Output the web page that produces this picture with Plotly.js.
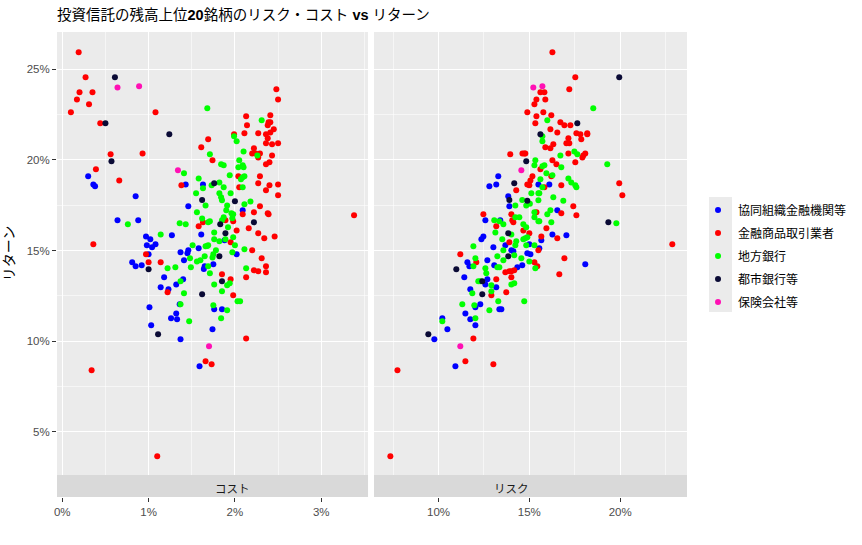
<!DOCTYPE html>
<html>
<head>
<meta charset="utf-8">
<script src="https://cdn.plot.ly/plotly-3.0.1.min.js"></script>
<style>
  body { margin: 0; background: #fff; }
  #chart { width: 862px; height: 545px; }
</style>
</head>
<body>
<div id="chart"></div>
<script>
// investment trusts, top 20 by balance: cost / risk vs return (all in %)
const categories = ['協同組織金融機関等', '金融商品取引業者', '地方銀行', '都市銀行等', '保険会社等'];
const catColors = ['#0000FF', '#FF0000', '#00FF00', '#0A0A35', '#FF10B4'];
const panelLabels = ['コスト', 'リスク'];

// [cost, return]
const kyodoCost = [[0.30,19.10],[0.36,18.65],[0.38,18.54],[0.85,17.99],[1.43,18.65],[1.63,18.65],
  [1.46,17.44],[0.64,16.67],[0.88,16.67],[1.61,15.89],[1.27,15.84],[0.97,15.78],[1.02,15.62],[1.08,15.34],
  [0.98,15.29],[1.04,15.18],[1.58,15.12],[1.46,15.01],[1.45,14.85],[1.37,14.90],[1.00,14.79],[1.41,14.46],
  [0.81,14.35],[0.85,14.13],[0.92,14.18],[1.65,14.13],[1.64,13.98],[1.75,14.24],[1.18,13.52],[1.40,13.41],
  [1.32,13.13],[1.14,12.97],[1.23,12.86],[1.01,11.87],[1.36,12.03],[1.76,11.76],[1.32,11.53],[1.26,11.26],
  [1.33,11.20],[1.03,10.87],[1.37,10.10],[1.74,10.65],[1.59,8.61],[2.09,17.22],[1.88,15.56],[2.02,14.79],
  [1.85,11.76]];
const shokenCost = [[0.19,25.94],[0.27,24.56],[0.20,23.73],[0.35,23.73],[0.17,23.34],[0.31,23.07],[0.10,22.63],
  [1.08,22.63],[0.44,22.02],[1.69,21.14],[1.61,20.70],[1.74,19.98],[0.56,20.31],[0.93,20.36],[0.39,19.48],
  [0.66,18.87],[1.38,18.60],[2.48,23.90],[2.50,23.34],[2.13,22.41],[2.41,22.46],[2.14,21.91],[2.39,22.08],
  [2.41,22.08],[2.38,21.91],[2.45,21.69],[2.41,21.52],[2.36,21.41],[2.11,21.47],[2.27,21.47],[1.99,21.41],
  [2.38,21.19],[2.36,20.92],[2.43,20.86],[2.50,20.92],[2.22,20.64],[2.20,20.36],[2.24,20.36],[2.29,20.36],
  [2.27,20.14],[2.43,20.25],[2.40,19.87],[2.36,19.76],[2.04,19.10],[2.29,19.10],[2.27,18.71],[2.40,18.60],
  [2.50,18.65],[2.36,18.32],[2.50,18.05],[2.05,18.49],[1.63,16.56],[1.58,16.34],[0.36,15.34],[0.97,14.79],
  [1.00,14.35],[1.14,14.35],[1.22,12.69],[1.66,8.89],[1.73,8.72],[0.34,8.39],[2.29,17.44],[2.09,17.00],
  [2.22,17.11],[2.38,17.05],[2.39,17.00],[1.89,16.67],[1.98,16.61],[2.02,16.11],[2.16,16.23],[2.27,15.95],
  [2.34,15.67],[2.46,15.78],[1.95,15.45],[2.20,15.01],[2.31,14.57],[2.22,13.91],[2.27,13.85],[2.36,14.13],
  [2.36,13.80],[1.85,13.69],[2.13,13.52],[1.95,13.41],[1.98,12.53],[2.13,10.15],[3.38,16.94],[1.10,3.64]];
const chiginCost = [[1.68,22.85],[1.71,20.31],[1.41,19.26],[1.58,18.98],[1.63,18.43],[1.73,18.60],[1.55,18.16],
  [2.31,22.19],[1.99,21.30],[2.02,21.03],[2.10,20.47],[2.26,20.25],[2.05,19.98],[1.84,19.76],[1.87,19.70],
  [2.04,19.59],[2.09,19.70],[2.10,19.59],[1.94,19.15],[2.09,19.04],[2.11,19.10],[2.07,18.93],[2.09,18.49],
  [1.82,18.76],[1.87,18.49],[1.82,18.16],[1.84,17.94],[1.95,18.16],[1.66,17.49],[1.56,17.11],[1.62,16.76],
  [1.69,16.56],[1.71,16.61],[0.76,16.45],[1.36,16.50],[1.43,16.45],[1.76,16.00],[1.14,15.89],[1.76,15.62],
  [1.51,15.29],[1.66,15.23],[1.69,15.29],[1.65,14.68],[1.75,14.79],[1.74,14.62],[1.48,14.57],[1.56,14.40],
  [1.60,14.46],[1.22,14.02],[1.31,14.07],[1.49,14.07],[1.69,14.13],[1.71,13.74],[1.37,13.30],[1.76,13.13],
  [1.41,12.64],[1.37,12.03],[1.75,11.98],[1.47,11.09],[1.85,17.77],[2.18,17.71],[1.91,17.49],[2.11,17.55],
  [1.90,17.22],[1.96,17.05],[1.98,17.00],[1.87,16.83],[1.85,16.67],[1.97,16.78],[1.92,16.28],[1.98,15.73],
  [1.82,15.51],[1.89,15.62],[2.00,15.29],[2.11,15.07],[1.68,15.25],[1.78,15.01],[1.97,14.90],[2.13,14.02],
  [1.91,13.08],[1.94,13.19],[1.85,12.75],[2.03,12.20],[2.06,12.20],[1.91,11.70],[1.84,11.26]];
const toginCost = [[0.61,24.56],[0.50,22.02],[1.24,21.41],[0.57,19.92],[1.76,18.71],[1.62,17.79],[2.00,17.72],
  [1.83,16.45],[2.22,16.56],[1.89,15.95],[1.82,14.68],[1.00,13.96],[1.85,13.30],[1.62,12.58],[1.11,10.38]];
const hokenCost = [[0.64,24.00],[0.89,24.06],[1.34,19.43],[1.70,9.71]];

// [risk, return]
const kyodoRisk = [[13.29,19.10],[13.18,18.65],[12.80,18.54],[13.84,17.99],[15.50,18.65],[16.10,18.65],
  [13.90,17.44],[12.58,16.67],[13.40,16.67],[12.47,15.78],[12.36,15.62],[13.68,15.29],[13.02,15.18],
  [14.01,15.01],[14.12,14.96],[14.89,14.85],[11.59,14.35],[12.69,14.46],[11.70,14.13],[13.07,14.18],
  [14.34,14.07],[14.61,14.18],[11.42,13.52],[12.69,13.41],[12.58,13.13],[13.18,12.97],[11.75,12.86],
  [12.03,11.87],[12.30,12.03],[13.35,11.76],[13.46,11.76],[11.48,11.53],[10.21,11.26],[11.75,11.20],
  [12.03,10.87],[10.49,10.65],[9.77,10.10],[10.93,8.61],[16.54,17.22],[16.27,15.89],[17.04,15.84],
  [15.66,15.56],[15.00,15.34],[15.55,15.12],[15.06,14.79],[18.08,14.24]];
const shokenRisk = [[14.89,22.63],[13.95,20.31],[14.62,20.36],[14.73,20.36],[14.78,20.36],[14.28,18.32],
  [16.27,25.94],[17.53,24.56],[15.61,23.73],[15.83,23.73],[15.39,23.34],[15.88,23.34],[17.20,23.90],
  [15.28,23.07],[15.77,22.63],[15.39,22.41],[16.21,22.46],[15.33,22.02],[16.71,22.08],[16.93,21.91],
  [17.26,21.91],[16.16,21.69],[16.54,21.52],[17.59,21.47],[17.81,21.41],[18.19,21.47],[18.19,21.41],
  [17.15,21.19],[17.86,21.14],[17.04,20.92],[17.20,20.92],[16.32,20.86],[15.88,20.70],[16.16,20.64],
  [17.15,20.36],[18.08,20.36],[17.97,20.25],[17.92,20.14],[16.27,19.98],[17.53,19.87],[16.49,19.76],
  [15.61,19.48],[15.17,19.10],[16.21,19.10],[16.76,18.60],[19.95,18.71],[20.12,18.05],[14.89,18.65],
  [15.00,18.60],[15.06,18.87],[15.83,18.49],[12.47,17.00],[14.01,17.00],[14.06,16.67],[14.12,16.56],
  [13.18,16.34],[14.67,16.11],[15.00,15.95],[13.90,15.45],[11.20,14.79],[12.08,14.35],[13.68,13.80],
  [13.90,13.85],[14.01,13.85],[14.17,13.91],[14.01,13.52],[13.18,13.41],[12.91,12.53],[13.73,12.69],
  [11.92,10.15],[11.48,8.89],[13.02,8.72],[7.74,8.39],[17.42,17.44],[17.59,16.94],[15.39,17.11],
  [16.76,17.05],[15.94,16.23],[15.66,15.78],[16.54,15.67],[15.50,15.01],[15.28,14.35],[15.44,14.13],
  [16.93,14.57],[16.65,13.69],[22.87,15.34],[7.35,3.64]];
const chiginRisk = [[14.61,17.79],[18.52,22.85],[15.99,22.19],[15.72,21.30],[15.72,21.03],[17.48,20.47],
  [17.64,20.31],[16.71,20.25],[15.33,19.98],[15.28,19.70],[15.83,19.70],[15.72,19.65],[16.76,19.59],
  [19.29,19.76],[15.94,19.26],[16.27,19.15],[17.15,18.98],[17.31,18.76],[17.53,18.60],[17.59,18.49],
  [15.61,18.93],[15.72,18.49],[15.11,18.16],[15.50,18.16],[15.55,18.16],[16.32,17.94],[16.87,17.75],
  [14.23,17.49],[14.83,17.49],[15.03,17.58],[14.23,16.83],[14.45,16.83],[13.07,16.67],[13.35,16.61],
  [13.57,16.45],[14.67,16.45],[14.83,16.28],[13.13,16.00],[14.01,15.89],[11.92,15.23],[13.51,15.62],
  [14.28,15.51],[14.67,15.62],[14.78,15.67],[14.89,15.73],[14.23,15.29],[14.83,15.29],[13.57,15.01],
  [13.24,14.68],[14.17,14.74],[14.56,14.57],[12.03,14.57],[13.57,14.46],[15.00,14.40],[11.92,14.13],
  [13.24,14.07],[13.35,14.07],[12.58,14.02],[12.63,13.74],[12.19,13.30],[12.30,13.30],[12.91,13.08],
  [14.01,13.13],[14.17,13.19],[11.86,12.64],[12.91,12.75],[13.29,12.20],[14.72,12.20],[11.31,12.03],
  [11.97,11.98],[12.80,11.70],[10.21,11.09],[12.03,11.26],[15.50,17.77],[15.28,17.11],[15.99,17.00],
  [16.16,17.22],[15.28,16.83],[15.50,16.61],[15.55,16.61],[16.21,16.56],[19.79,16.50],[15.28,15.29],
  [15.33,14.02]];
const toginRisk = [[19.95,24.56],[17.64,22.02],[15.61,21.41],[14.83,19.92],[14.17,18.71],[13.90,17.79],
  [14.89,17.75],[13.84,15.95],[13.84,14.68],[10.98,13.96],[12.41,13.30],[12.41,12.58],[9.44,10.38],
  [19.35,16.56]];
const hokenRisk = [[15.22,24.00],[15.72,24.06],[14.56,19.43],[11.20,9.71]];

const costSets = [kyodoCost, shokenCost, chiginCost, toginCost, hokenCost];
const riskSets = [kyodoRisk, shokenRisk, chiginRisk, toginRisk, hokenRisk];

const FONT = 'Liberation Sans, Arial, Noto Sans CJK JP, sans-serif';

let traces = [];
categories.forEach((name, i) => {
  traces.push({
    type: 'scatter', mode: 'markers', name: name, legendgroup: 'g' + i,
    x: costSets[i].map(d => d[0]), y: costSets[i].map(d => d[1]),
    xaxis: 'x', yaxis: 'y',
    marker: { color: catColors[i], size: 6 },
    showlegend: true
  });
});
categories.forEach((name, i) => {
  traces.push({
    type: 'scatter', mode: 'markers', name: name, legendgroup: 'g' + i,
    x: riskSets[i].map(d => d[0]), y: riskSets[i].map(d => d[1]),
    xaxis: 'x2', yaxis: 'y',
    marker: { color: catColors[i], size: 6 },
    showlegend: false
  });
});

const gridStyle = { gridcolor: '#FFFFFF', gridwidth: 1.1, zeroline: false, showline: false,
  ticks: 'outside', ticklen: 4, tickcolor: '#333333', tickwidth: 1,
  tickfont: { family: FONT, size: 11.5, color: '#4D4D4D' }, automargin: false };

const stripTop = 0.0473;
const leftEnd = 0.4937, rightStart = 0.5032;

const layout = {
  width: 862, height: 545,
  margin: { l: 57, r: 175, t: 32, b: 48, autoexpand: false },
  paper_bgcolor: '#FFFFFF', plot_bgcolor: '#EBEBEB',
  font: { family: FONT, color: '#000000' },
  title: {
    text: '投資信託の残高上位<b>20</b>銘柄のリスク・コスト <b>vs</b> リターン',
    font: { family: FONT, size: 14.5, color: '#000000' },
    x: 57 / 862, xanchor: 'left', xref: 'container',
    y: 1 - 15 / 545, yanchor: 'middle', yref: 'container'
  },
  xaxis: Object.assign({}, gridStyle, {
    domain: [0, leftEnd], range: [-0.061, 3.542],
    tick0: 0, dtick: 1, ticksuffix: '%', anchor: 'free', position: 0,
    minor: { dtick: 0.5, showgrid: true, gridcolor: '#FFFFFF', gridwidth: 0.55, ticks: '' }
  }),
  xaxis2: Object.assign({}, gridStyle, {
    domain: [rightStart, 1], range: [6.45, 23.68],
    tick0: 0, dtick: 5, ticksuffix: '%', anchor: 'free', position: 0,
    minor: { dtick: 2.5, showgrid: true, gridcolor: '#FFFFFF', gridwidth: 0.55, ticks: '' }
  }),
  yaxis: Object.assign({}, gridStyle, {
    domain: [stripTop, 1], range: [2.61, 27.06],
    tick0: 0, dtick: 5, ticksuffix: '%', anchor: 'x',
    minor: { dtick: 2.5, showgrid: true, gridcolor: '#FFFFFF', gridwidth: 0.55, ticks: '' },
    title: { text: 'リターン', font: { family: FONT, size: 14, color: '#000000' }, standoff: 8 }
  }),
  shapes: [
    { type: 'rect', xref: 'paper', yref: 'paper', x0: 0, x1: leftEnd, y0: 0, y1: stripTop,
      fillcolor: '#D9D9D9', line: { width: 0 }, layer: 'below' },
    { type: 'rect', xref: 'paper', yref: 'paper', x0: rightStart, x1: 1, y0: 0, y1: stripTop,
      fillcolor: '#D9D9D9', line: { width: 0 }, layer: 'below' },
    // grey backing of the legend keys
    { type: 'rect', xref: 'paper', yref: 'paper', x0: 1.0349, x1: 1.0714, y0: 0.398, y1: 0.645,
      fillcolor: '#EBEBEB', line: { width: 0 }, layer: 'below' }
  ],
  annotations: [
    { text: panelLabels[0], xref: 'paper', yref: 'paper', x: leftEnd / 2, y: stripTop / 2,
      yanchor: 'middle', yshift: -3,
      showarrow: false, font: { family: FONT, size: 11.5, color: '#1A1A1A' } },
    { text: panelLabels[1], xref: 'paper', yref: 'paper', x: (rightStart + 1) / 2, y: stripTop / 2,
      yanchor: 'middle', yshift: -3,
      showarrow: false, font: { family: FONT, size: 11.5, color: '#1A1A1A' } }
  ],
  legend: {
    x: 1.0175, xanchor: 'left', y: 0.6484, yanchor: 'top',
    bgcolor: 'rgba(0,0,0,0)', borderwidth: 0,
    font: { family: FONT, size: 12, color: '#000000' },
    tracegroupgap: 4, itemclick: false
  },
  showlegend: true
};

Plotly.newPlot('chart', traces, layout, { displayModeBar: false, staticPlot: true });
</script>
</body>
</html>
